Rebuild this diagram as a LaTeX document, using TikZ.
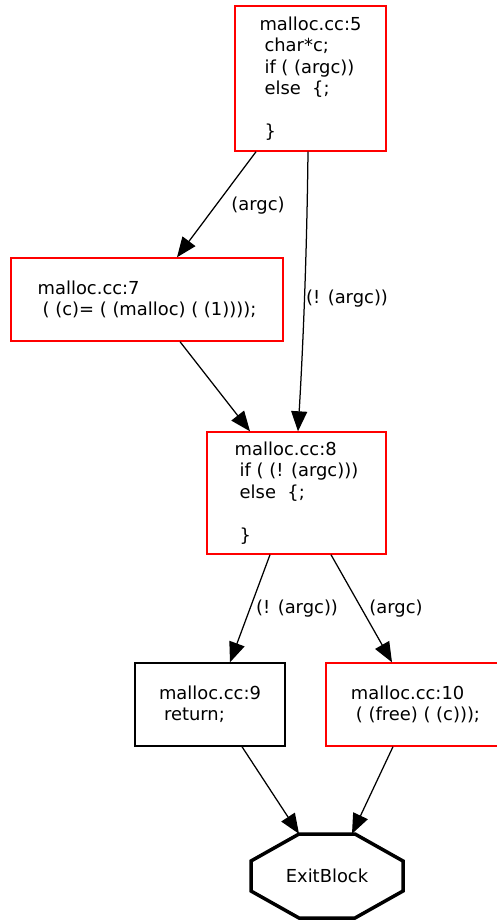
\documentclass[tikz,border=0pt]{standalone}
\usepackage{fontspec}
\setmainfont{DejaVu Sans}
\usetikzlibrary{arrows.meta,calc}
\newcommand\ind{\hspace*{5pt}}
\begin{document}
\begin{tikzpicture}[x=1pt,y=-1pt,
  txt/.style={font=\fontsize{17.9pt}{21.4pt}\selectfont},
  box/.style={txt, draw=red, line width=1.4pt, inner sep=0pt, align=left},
  bbox/.style={box, draw=black},
  lbl/.style={txt, inner sep=0pt},
  edge/.style={line width=1.25pt, -{Triangle[length=20pt,width=16pt]}}
]
\useasboundingbox[fill=white] (0,0) rectangle (496,921);

\node[box, minimum width=151pt, minimum height=145pt] (n5) at (310.5,78.5)
  {malloc.cc:5\\\ind char*c;\\\ind if ( (argc))\\\ind else\ \ \{;\\\mbox{}\\\ind \}};
\node[box, minimum width=272pt, minimum height=83pt] (n7) at (147,299.5)
  {malloc.cc:7\\\ind ( (c)= ( (malloc) ( (1))));};
\node[box, minimum width=179pt, minimum height=122pt] (n8) at (296.5,493)
  {malloc.cc:8\\\ind if ( (! (argc)))\\\ind else\ \ \{;\\\mbox{}\\\ind \}};
\node[bbox, minimum width=150pt, minimum height=83pt] (n9) at (210,704.5)
  {malloc.cc:9\\\ind return;};
\node[box, minimum width=179pt, minimum height=83pt] (n10) at (415.5,704.5)
  {malloc.cc:10\\\ind ( (free) ( (c)));};
\node[txt, inner sep=0pt, minimum width=152pt, minimum height=84pt] (exit) at (327,876) {ExitBlock};
\draw[line width=3.5pt, line join=miter]
  ($(exit)+(-28,-42)$) -- ($(exit)+(28,-42)$) -- ($(exit)+(76,-15)$) -- ($(exit)+(76,15)$)
  -- ($(exit)+(28,42)$) -- ($(exit)+(-28,42)$) -- ($(exit)+(-76,15)$) -- ($(exit)+(-76,-15)$) -- cycle;

\draw[edge] ([xshift=-54.5pt]n5.south) -- ([xshift=30pt]n7.north);
\node[lbl] (l57) at (258,206) {(argc)};
\draw[edge] ([xshift=-2.5pt]n5.south) .. controls (307,240) and (304,330) .. ([xshift=1.5pt]n8.north);
\node[lbl] (l58) at (347,299) {(! (argc))};
\draw[edge] ([xshift=33pt]n7.south) -- ([xshift=-46.5pt]n8.north);
\draw[edge] ([xshift=-26.5pt]n8.south) -- ([xshift=20pt]n9.north);
\node[lbl] (l89) at (297,609) {(! (argc))};
\draw[edge] ([xshift=34.5pt]n8.south) -- ([xshift=-23.5pt]n10.north);
\node[lbl] (l810) at (396,609) {(argc)};
\draw[edge] ([xshift=32pt]n9.south) -- ([xshift=-28pt]exit.north);
\draw[edge] ([xshift=-22.5pt]n10.south) -- ([xshift=25pt]exit.north);
\end{tikzpicture}
\end{document}
